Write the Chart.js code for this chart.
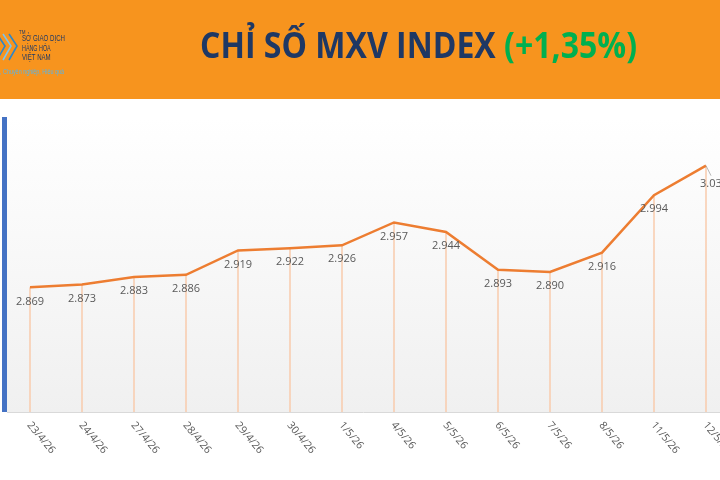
<!DOCTYPE html>
<html>
<head>
<meta charset="utf-8">
<script src="https://cdn.jsdelivr.net/npm/chart.js@4.4.1/dist/chart.umd.min.js"></script>
<style>
  html, body { margin: 0; padding: 0; background: #fff; }
  #wrap { position: relative; width: 720px; height: 480px; overflow: hidden; }
</style>
</head>
<body>
<div id="wrap"><canvas id="mxv" width="720" height="480"></canvas></div>
<script>
const labels = ['23/4/26', '24/4/26', '27/4/26', '28/4/26', '29/4/26', '30/4/26', '1/5/26',
  '4/5/26', '5/5/26', '6/5/26', '7/5/26', '8/5/26', '11/5/26', '12/5/26'];
const values = [2.869, 2.873, 2.883, 2.886, 2.919, 2.922, 2.926, 2.957, 2.944, 2.893, 2.890, 2.916, 2.994, 3.034];
const yMin = 2.7;
const yMax = 3.1;

const titleMain = 'CHỈ SỐ MXV INDEX ';
const titleChange = '(+1,35%)';
const logoLines = ['SỞ GIAO DỊCH', 'HÀNG HÓA', 'VIỆT NAM'];
const logoTagline = 'h, Chuyên nghiệp, Hiệu quả';

function fmt(v) {
  return v.toFixed(3);
}

// squeeze text horizontally so it spans a given width
function fitText(ctx, text, x, y, width) {
  const w = ctx.measureText(text).width;
  ctx.save();
  ctx.translate(x, y);
  ctx.scale(Math.min(1, width / w), 1);
  ctx.fillText(text, 0, 0);
  ctx.restore();
}

const decor = {
  id: 'decor',
  beforeDraw(chart) {
    const ctx = chart.ctx;
    const area = chart.chartArea;
    ctx.save();

    // header band
    ctx.fillStyle = '#f7941e';
    ctx.fillRect(0, 0, 720, 99);

    // title, squeezed to a condensed look
    ctx.font = 'bold 35px "Open Sans"';
    ctx.textBaseline = 'alphabetic';
    const w1 = ctx.measureText(titleMain).width;
    const w2 = ctx.measureText(titleChange).width;
    const sx = 437 / (w1 + w2);
    ctx.save();
    ctx.translate(200, 58);
    ctx.scale(sx, 1);
    ctx.fillStyle = '#1f3864';
    ctx.fillText(titleMain, 0, 0);
    ctx.fillStyle = '#00b050';
    ctx.fillText(titleChange, w1, 0);
    ctx.restore();

    // logo
    ctx.lineWidth = 1.6;
    for (let i = 0; i < 3; i++) {
      ctx.strokeStyle = i === 1 ? '#7cc3ee' : '#2e86c9';
      ctx.beginPath();
      ctx.moveTo(-3 + i * 6, 34);
      ctx.lineTo(5 + i * 6, 46);
      ctx.lineTo(-3 + i * 6, 60);
      ctx.stroke();
    }
    ctx.fillStyle = '#1f3864';
    ctx.font = '8.5px "Liberation Sans"';
    ctx.textBaseline = 'middle';
    logoLines.forEach((t, i) => fitText(ctx, t, 22, 39 + i * 9.5, 43 * t.length / 12));
    ctx.font = '4.5px "Liberation Sans"';
    ctx.fillText('TM', 19, 33);
    ctx.fillStyle = '#5ab4e5';
    ctx.font = '8px "Liberation Sans"';
    fitText(ctx, logoTagline, -3, 72, 67);

    // plot background
    const g = ctx.createLinearGradient(0, area.top, 0, area.bottom);
    g.addColorStop(0, '#ffffff');
    g.addColorStop(1, '#f0f0f0');
    ctx.fillStyle = g;
    ctx.fillRect(6, area.top, 714, area.bottom - area.top);

    // blue side bar
    ctx.fillStyle = '#4472c4';
    ctx.fillRect(2, area.top, 5, area.bottom - area.top);

    // bottom axis line
    ctx.strokeStyle = '#d9d9d9';
    ctx.lineWidth = 1;
    ctx.beginPath();
    ctx.moveTo(7, area.bottom + 0.5);
    ctx.lineTo(720, area.bottom + 0.5);
    ctx.stroke();
    ctx.restore();
  },
  beforeDatasetsDraw(chart) {
    const ctx = chart.ctx;
    const xs = chart.scales.x;
    const ys = chart.scales.y;
    ctx.save();
    ctx.strokeStyle = '#f8cbad';
    ctx.lineWidth = 1.5;
    values.forEach((v, i) => {
      const x = xs.getPixelForValue(i);
      ctx.beginPath();
      ctx.moveTo(x, ys.getPixelForValue(v));
      ctx.lineTo(x, chart.chartArea.bottom);
      ctx.stroke();
    });
    ctx.restore();
  },
  afterDatasetsDraw(chart) {
    const ctx = chart.ctx;
    const xs = chart.scales.x;
    const ys = chart.scales.y;
    ctx.save();
    ctx.fillStyle = '#595959';
    ctx.font = '11px "Open Sans"';
    ctx.textAlign = 'center';
    ctx.textBaseline = 'middle';
    values.forEach((v, i) => {
      const x = xs.getPixelForValue(i);
      const y = ys.getPixelForValue(v);
      if (i === values.length - 1) {
        ctx.strokeStyle = '#a6a6a6';
        ctx.lineWidth = 0.8;
        ctx.beginPath();
        ctx.moveTo(x, y);
        ctx.lineTo(x + 5, y + 10);
        ctx.stroke();
        ctx.fillText(fmt(v), x + 8, y + 18);
      } else {
        ctx.fillText(fmt(v), x, y + 14);
      }
    });

    // rotated date labels
    ctx.font = '10.5px "Open Sans"';
    ctx.textAlign = 'left';
    ctx.textBaseline = 'top';
    labels.forEach((t, i) => {
      const x = xs.getPixelForValue(i);
      ctx.save();
      ctx.translate(x + 3, chart.chartArea.bottom + 8);
      ctx.rotate(50 * Math.PI / 180);
      ctx.fillText(t, 0, 0);
      ctx.restore();
    });
    ctx.restore();
  }
};

new Chart(document.getElementById('mxv').getContext('2d'), {
  type: 'line',
  data: {
    labels: labels,
    datasets: [{
      label: 'MXV Index',
      data: values,
      borderColor: '#ed7d31',
      borderWidth: 2.5,
      pointRadius: 0,
      tension: 0,
      fill: false
    }]
  },
  options: {
    responsive: false,
    animation: false,
    layout: {
      padding: { left: 30, right: 14, top: 117, bottom: 68 }
    },
    plugins: {
      legend: { display: false },
      tooltip: { enabled: false }
    },
    scales: {
      x: {
        display: false,
        offset: false
      },
      y: {
        display: false,
        min: yMin,
        max: yMax
      }
    }
  },
  plugins: [decor]
});
</script>
</body>
</html>
